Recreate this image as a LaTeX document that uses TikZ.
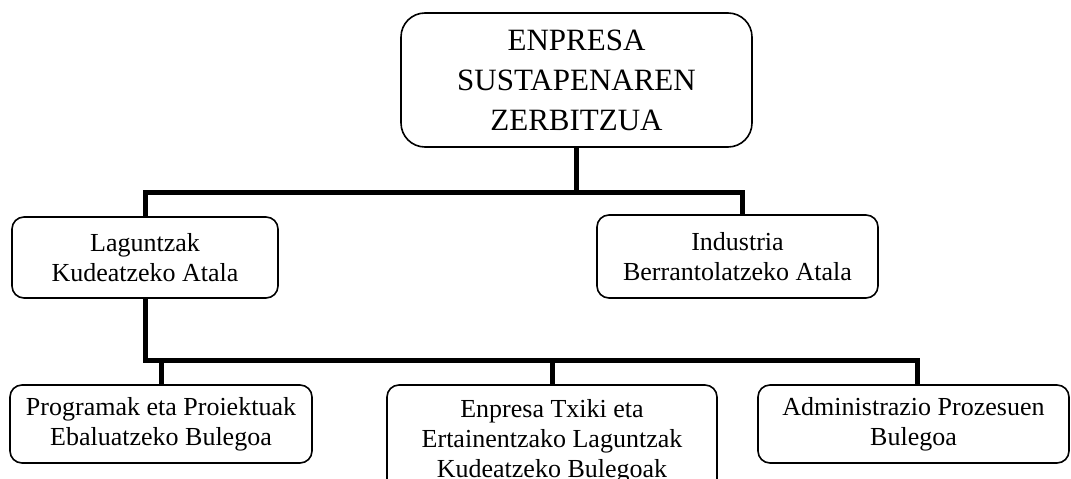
\documentclass[tikz,border=0pt]{standalone}
\usepackage{fontspec}
\setmainfont{Liberation Serif}
\begin{document}
\begin{tikzpicture}[x=1pt,y=-1pt,
  box/.style={draw, line width=1.6pt, rounded corners=12pt, align=center, inner sep=0pt,
    font=\fontsize{26}{30}\selectfont},
  conn/.style={line width=5pt}]
\useasboundingbox (0,0) rectangle (1071,479);
\clip (0,0) rectangle (1071,479);
\fill[white] (0,0) rectangle (1071,479);
% nodes
\node[box, minimum width=351pt, minimum height=134pt, rounded corners=24pt,
  font=\fontsize{31}{40}\selectfont] (top) at (576.5,80) {ENPRESA\\SUSTAPENAREN\\ZERBITZUA};
\node[box, minimum width=266pt, minimum height=81pt] (ml) at (145,257.5) {Laguntzak\\Kudeatzeko Atala};
\node[box, minimum width=281pt, minimum height=83pt] (mr) at (737.5,256.5) {Industria\\Berrantolatzeko Atala};
\node[box, minimum width=302pt, minimum height=78pt] (bl) at (161,424) {Programak eta Proiektuak\\Ebaluatzeko Bulegoa};
\node[box, minimum width=330pt, minimum height=112pt] (bm) at (552,441) {Enpresa Txiki eta\\Ertainentzako Laguntzak\\Kudeatzeko Bulegoak};
\node[box, minimum width=311pt, minimum height=78pt] (br) at (913.5,424) {Administrazio Prozesuen\\Bulegoa};
% bus coordinates
\coordinate (bus1) at (0,192);
\coordinate (bus2) at (0,360);
% connectors
\draw[conn] (top.south) -- (top.south |- bus1);
\draw[conn] (ml.north) -- (ml.north |- bus1) -- ([xshift=5pt]mr.north |- bus1) -- ([xshift=5pt]mr.north);
\draw[conn] (ml.south) -- (ml.south |- bus2) -- ([xshift=4pt]br.north |- bus2) -- ([xshift=4pt]br.north);
\draw[conn] (bl.north) -- (bl.north |- bus2);
\draw[conn] (bm.north) -- (bm.north |- bus2);
\end{tikzpicture}
\end{document}
